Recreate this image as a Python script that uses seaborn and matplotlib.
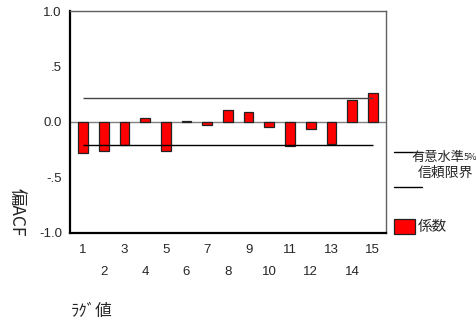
import matplotlib
matplotlib.use("Agg")
import matplotlib.pyplot as plt
import seaborn as sns
import pandas as pd
from matplotlib.lines import Line2D
from matplotlib.patches import Rectangle

# Partial autocorrelation coefficients by lag
lags = list(range(1, 16))
pacf = [-0.282, -0.267, -0.210, 0.033, -0.267, 0.004, -0.033, 0.108,
        0.087, -0.048, -0.216, -0.066, -0.201, 0.192, 0.259]
conf_upper = 0.213
conf_lower = -0.213

y_ticks = [-1.0, -0.5, 0.0, 0.5, 1.0]
y_ticklabels = ["-1.0", "-.5", "0.0", ".5", "1.0"]

sns.set_style("white")
plt.rcParams["font.family"] = ["Liberation Sans", "Noto Sans CJK JP", "DejaVu Sans"]
jp = ["Noto Sans CJK JP", "DejaVu Sans"]

df = pd.DataFrame({"lag": lags, "pacf": pacf})

fig = plt.figure(figsize=(4.77, 3.22), dpi=100)
ax = fig.add_axes([70 / 477, 1 - 232.5 / 322, 316 / 477, 221.5 / 322])

sns.barplot(data=df, x="lag", y="pacf", order=lags, color="#ff0000",
            saturation=1, width=0.47, edgecolor="#222222", linewidth=0.9,
            ax=ax, zorder=3)

n = len(lags)
ax.axhline(0, color="#808080", lw=1.0, zorder=2)
ax.hlines(conf_upper, 0, n - 1, color="#444444", lw=1.0, zorder=4)
ax.hlines(conf_lower, 0, n - 1, color="black", lw=1.0, zorder=4)

ax.set_xlim(-0.63, n - 1 + 0.64)
ax.set_ylim(-1.0, 1.0)
ax.set_yticks(y_ticks)
ax.set_yticklabels(y_ticklabels, fontsize=9.5)
ax.set_xticks(range(n))
ax.set_xticklabels([str(l) for l in lags], fontsize=9.5)
ax.set_xlabel("")
ax.set_ylabel("")

ax.tick_params(axis="both", direction="out", length=1.8, width=2.2, color="black")
ax.tick_params(axis="y", pad=4)
for i, t in enumerate(ax.xaxis.get_major_ticks()):
    t.set_pad(6.5 if lags[i] % 2 == 1 else 22.5)

for s in ["left", "bottom"]:
    ax.spines[s].set_color("black")
    ax.spines[s].set_linewidth(1.6)
for s in ["top", "right"]:
    ax.spines[s].set_color("#606060")
    ax.spines[s].set_linewidth(1.0)

# Axis titles
fig.text(17 / 477, 1 - 212.5 / 322, "偏ACF", rotation=270, ha="center", va="center",
         fontsize=12.5, family=jp)
fig.text(71 / 477, 1 - 311 / 322, "ﾗｸﾞ値", ha="left", va="center",
         fontsize=12, family=jp)

# Legend
fig.add_artist(Line2D([394 / 477, 422 / 477], [1 - 151.7 / 322] * 2,
                      color="black", lw=1.0))
fig.add_artist(Line2D([394 / 477, 422 / 477], [1 - 186.7 / 322] * 2,
                      color="black", lw=1.0))
fig.text(464 / 477, 1 - 158 / 322, "有意水準", ha="right", va="center",
         fontsize=9.5, family=jp)
fig.text(464 / 477, 1 - 158 / 322, "5%", ha="left", va="center",
         fontsize=6.5, family=jp)
fig.text(445.5 / 477, 1 - 173.3 / 322, "信頼限界", ha="center", va="center",
         fontsize=10, family=jp)
fig.add_artist(Rectangle((394.3 / 477, 1 - 234.3 / 322), 20.7 / 477, 15 / 322,
                         facecolor="#ff0000", edgecolor="#222222", lw=0.9,
                         transform=fig.transFigure))
fig.text(418 / 477, 1 - 227.5 / 322, "係数", ha="left", va="center",
         fontsize=10.5, family=jp)

fig.savefig("out.png", dpi=100)
